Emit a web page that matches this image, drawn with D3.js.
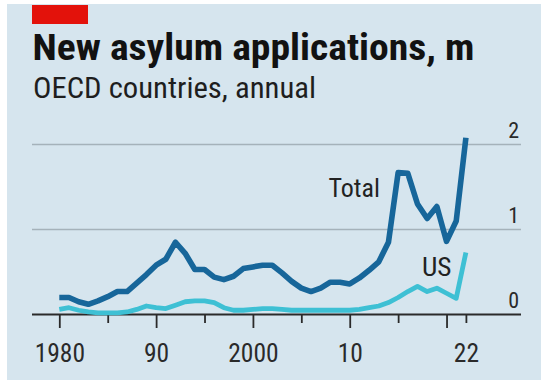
<!DOCTYPE html>
<html>
<head>
<meta charset="utf-8">
<script src="https://cdn.jsdelivr.net/npm/d3@7"></script>
<style>
  html, body { margin: 0; padding: 0; background: #ffffff; }
  svg { display: block; }
  text { font-family: "Liberation Sans Narrow", "Roboto Condensed", "Arial Narrow", Roboto, sans-serif; }
</style>
</head>
<body>
<script>
// ---- data ----
const years = [1980,1981,1982,1983,1984,1985,1986,1987,1988,1989,
               1990,1991,1992,1993,1994,1995,1996,1997,1998,1999,
               2000,2001,2002,2003,2004,2005,2006,2007,2008,2009,
               2010,2011,2012,2013,2014,2015,2016,2017,2018,2019,
               2020,2021,2022];
const total = [0.20,0.20,0.15,0.12,0.16,0.21,0.27,0.27,0.37,0.47,
               0.58,0.65,0.85,0.72,0.53,0.53,0.44,0.41,0.45,0.54,
               0.56,0.58,0.58,0.49,0.39,0.31,0.27,0.31,0.38,0.38,
               0.36,0.43,0.52,0.62,0.85,1.67,1.66,1.30,1.13,1.27,
               0.86,1.10,2.08];
const us    = [0.06,0.08,0.05,0.03,0.02,0.02,0.02,0.03,0.06,0.10,
               0.08,0.07,0.11,0.15,0.16,0.16,0.14,0.08,0.05,0.05,
               0.06,0.07,0.07,0.06,0.05,0.05,0.05,0.05,0.05,0.05,
               0.05,0.06,0.08,0.10,0.14,0.20,0.27,0.33,0.27,0.31,
               0.25,0.19,0.73];
const yTicks = [0, 1, 2];
const xTicks = [1980, 1985, 1990, 1995, 2000, 2005, 2010, 2015, 2020, 2022];
const xLabels = {1980: "1980", 1990: "90", 2000: "2000", 2010: "10", 2022: "22"};
const title = "New asylum applications, m";
const subtitle = "OECD countries, annual";
const seriesNames = ["Total", "US"];

// ---- layout ----
const W = 541, H = 381;
const svg = d3.select("body").append("svg").attr("width", W).attr("height", H);

svg.append("rect").attr("x", 7).attr("y", 4).attr("width", W - 7).attr("height", 376)
  .attr("fill", "#d6e5ee");
svg.append("rect").attr("x", 32).attr("y", 5).attr("width", 56).attr("height", 19)
  .attr("fill", "#e3120b");

svg.append("text").attr("x", 32.5).attr("y", 60).text(title)
  .attr("font-size", 37).attr("font-weight", "bold").attr("fill", "#121212")
  .attr("textLength", 442).attr("lengthAdjust", "spacingAndGlyphs");
svg.append("text").attr("x", 33).attr("y", 97.5).text(subtitle)
  .attr("font-size", 29).attr("fill", "#1e1e1e")
  .attr("textLength", 283).attr("lengthAdjust", "spacingAndGlyphs");

const x = d3.scaleLinear().domain([1980, 2022]).range([59.3, 465.9]);
const y = d3.scaleLinear().domain([0, 2]).range([314.5, 144.5]);
const gridX0 = 32, gridX1 = 521;

// gridlines
svg.append("g").selectAll("line").data(yTicks.filter(d => d > 0)).join("line")
  .attr("x1", gridX0).attr("x2", gridX1)
  .attr("y1", d => y(d)).attr("y2", d => y(d))
  .attr("stroke", "#a5b2ba").attr("stroke-width", 1.4);

// y labels
svg.append("g").selectAll("text").data(yTicks).join("text")
  .attr("x", 519).attr("y", d => y(d) - 7)
  .attr("text-anchor", "end").attr("font-size", 22).attr("fill", "#2a2a2a")
  .text(d => d);

// x axis with D3
const xAxis = d3.axisBottom(x).tickValues(xTicks)
  .tickSize(0).tickFormat(d => xLabels[d] || "");
const gx = svg.append("g").attr("transform", `translate(0,${y(0)})`).call(xAxis);
gx.select(".domain").remove();
gx.selectAll(".tick text").attr("font-size", 25.5).attr("fill", "#2a2a2a")
  .attr("dy", 0).attr("y", 47.5)
  .attr("font-family", "\"Liberation Sans Narrow\", \"Roboto Condensed\", Roboto, sans-serif");
gx.selectAll(".tick").append("line")
  .attr("y1", 0).attr("y2", d => (d % 10 === 0) ? 13.5 : 8.5)
  .attr("stroke", "#2a2a2a").attr("stroke-width", 1.8);
gx.append("line").attr("x1", gridX0).attr("x2", gridX1).attr("y1", 0).attr("y2", 0)
  .attr("stroke", "#2a2a2a").attr("stroke-width", 1.8);

// lines
const line = d3.line().x((d, i) => x(years[i])).y(d => y(d)).curve(d3.curveLinear);
svg.append("path").datum(us).attr("d", line)
  .attr("fill", "none").attr("stroke", "#3ec0d4").attr("stroke-width", 4.8)
  .attr("stroke-linejoin", "round").attr("stroke-linecap", "butt");
svg.append("path").datum(total).attr("d", line)
  .attr("fill", "none").attr("stroke", "#17669a").attr("stroke-width", 5.6)
  .attr("stroke-linejoin", "round").attr("stroke-linecap", "butt");

// series labels
svg.append("text").attr("x", 328.5).attr("y", 196.5).text(seriesNames[0])
  .attr("font-size", 25.5).attr("fill", "#222")
  .attr("textLength", 51.5).attr("lengthAdjust", "spacingAndGlyphs");
svg.append("text").attr("x", 422).attr("y", 276).text(seriesNames[1])
  .attr("font-size", 25.5).attr("fill", "#222")
  .attr("textLength", 29.5).attr("lengthAdjust", "spacingAndGlyphs");
</script>
</body>
</html>
